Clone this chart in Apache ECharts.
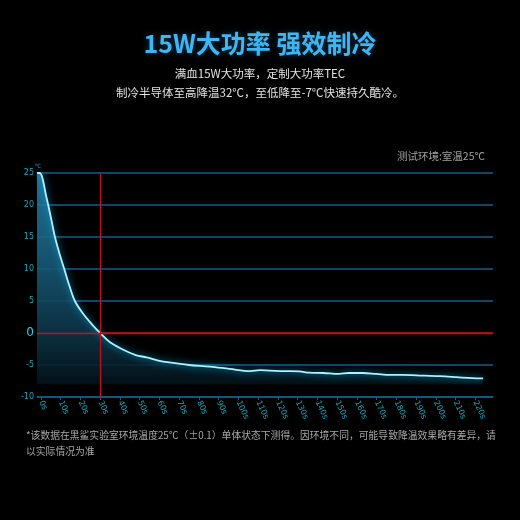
<!DOCTYPE html>
<html>
<head>
<meta charset="utf-8">
<script src="https://cdn.jsdelivr.net/npm/echarts@6/dist/echarts.min.js"></script>
<style>
html,body{margin:0;padding:0;background:#000;}
#c{width:520px;height:520px;}
</style>
</head>
<body>
<div id="c"></div>
<script>
var times = [-2,-0.5,0.5,1.5,2.5,3.7,5.4,7.1,9.4,11.8,14.5,17.2,21.4,25.7,30,35,41,48,53.5,59.5,65,75,85.5,95.5,106,111,121,126,131,136,143,151,156,163,170,177,183,193.5,202,210.5,218.5,224];
var temps = [25,25,24.5,23.2,21.6,20,17.5,15,12.4,10,7.3,5,3,1.4,0,-1.45,-2.5,-3.45,-3.8,-4.3,-4.6,-5,-5.25,-5.6,-5.95,-5.8,-5.95,-5.95,-6.0,-6.2,-6.25,-6.4,-6.25,-6.25,-6.4,-6.55,-6.55,-6.65,-6.75,-6.9,-7.05,-7.1];
var xTicks = [0,10,20,30,40,50,60,70,80,90,100,110,120,130,140,150,160,170,180,190,200,210,220];
var titleText = '15W大功率 强效制冷';
var subLines = ['满血15W大功率，定制大功率TEC','制冷半导体至高降温32°C，至低降至-7°C快速持久酷冷。'];
var envText = '测试环境:室温25℃';
var noteLines = ['*该数据在黑鲨实验室环境温度25℃（±0.1）单体状态下测得。因环境不同，可能导致降温效果略有差异，请','以实际情况为准'];

var data = times.map(function(t,i){return [t,temps[i]];});
var chart = echarts.init(document.getElementById('c'));
var cjk = '"Noto Sans CJK SC","Noto Sans",sans-serif';
var gl = '#0f5f88', rd = '#c0101a';
chart.setOption({
  backgroundColor:'#000',
  animation:false,
  title:{text:titleText,left:'center',top:26,
    textStyle:{color:'#3db6f4',fontSize:25,fontWeight:'bold',fontFamily:'"Noto Sans CJK SC",sans-serif',
      textShadowColor:'rgba(60,180,255,0.35)',textShadowBlur:6}},
  graphic:[
    {type:'text',left:'center',top:68,style:{text:subLines[0],font:'11.5px '+cjk,fill:'#e2e2e2'}},
    {type:'text',left:'center',top:87,style:{text:subLines[1],font:'11.5px '+cjk,fill:'#e2e2e2'}},
    {type:'text',right:35,top:151,style:{text:envText,font:'10.5px '+cjk,fill:'#a0a0a0'}},
    {type:'text',left:26,top:430,style:{text:noteLines[0],font:'9.8px '+cjk,fill:'#a8a8a8'}},
    {type:'text',left:26,top:446,style:{text:noteLines[1],font:'9.8px '+cjk,fill:'#a8a8a8'}}
  ],
  grid:{left:37,right:27,top:173,bottom:123,containLabel:false},
  xAxis:{type:'value',min:-2,max:229,
    axisLine:{show:true,onZero:false,lineStyle:{color:gl,width:1.5}},
    axisTick:{show:true,customValues:xTicks,length:3,lineStyle:{color:gl}},
    axisLabel:{customValues:xTicks,rotate:-65,color:'#17a8bb',fontSize:8,margin:4,
      fontFamily:'DejaVu Sans',formatter:function(v){return v+'s';}},
    splitLine:{show:false}},
  yAxis:{type:'value',min:-10,max:25,interval:5,
    name:'℃',nameGap:4,nameTextStyle:{color:'#17a8bb',fontSize:6,align:'right'},
    axisLine:{show:false},axisTick:{show:false},
    axisLabel:{color:'#17a8bb',fontSize:8,margin:3,fontFamily:'DejaVu Sans',
      formatter:function(v){return v===0?'{z|0}':String(v);},
      rich:{z:{fontSize:12,color:'#1ed3e6',fontFamily:'DejaVu Sans'}}},
    splitLine:{show:true,lineStyle:{color:[gl,gl,rd,gl,gl,gl,gl,gl],width:1.5}}},
  series:[{
    type:'line',data:data,smooth:0.35,showSymbol:false,z:2,
    lineStyle:{color:'#aef2ff',width:1.8,shadowColor:'rgba(0,190,255,0.95)',shadowBlur:7},
    areaStyle:{origin:-8,opacity:0.88,color:new echarts.graphic.LinearGradient(0,0,0,1,[
      {offset:0,color:'rgb(36,128,168)'},
      {offset:0.45,color:'rgb(23,90,120)'},
      {offset:0.75,color:'rgb(13,55,74)'},
      {offset:0.9,color:'rgb(8,34,46)'},
      {offset:1,color:'rgb(4,18,26)'}])},
    markLine:{silent:true,symbol:'none',label:{show:false},z:6,
      lineStyle:{color:rd,width:1.3,type:'solid'},
      data:[{xAxis:30},{yAxis:0}]}
  }]
});
</script>
</body>
</html>
